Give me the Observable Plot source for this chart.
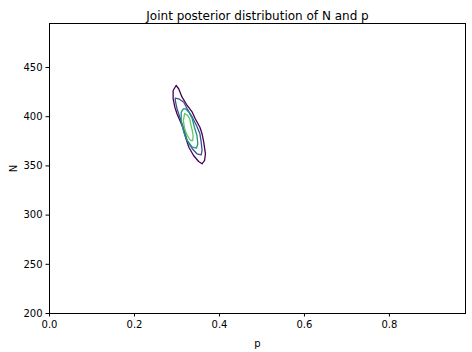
<!DOCTYPE html>
<html>
<head>
<meta charset="utf-8">
<script src="https://cdn.jsdelivr.net/npm/d3@7"></script>
<script src="https://cdn.jsdelivr.net/npm/@observablehq/plot@0.6"></script>
<style>
  html, body { margin: 0; padding: 0; background: #fff; }
  svg { display: block; }
</style>
</head>
<body>
<div id="chart"></div>
<script>
// Contour levels (viridis colours) and their outline points [p, N]
const levels = ["level1", "level2", "level3", "level4"];
const levelColors = ["#440154", "#3b528b", "#21918c", "#5ec962"];

const contour1 = [
  [0.298, 431.7], [0.291, 426.6], [0.291, 418.2], [0.295, 409.7], [0.300, 403.0],
  [0.307, 396.1], [0.315, 387.7], [0.320, 379.2], [0.328, 369.0], [0.339, 360.6],
  [0.351, 354.5], [0.359, 352.1], [0.365, 355.5], [0.367, 362.3], [0.363, 374.1],
  [0.359, 382.6], [0.354, 389.3], [0.343, 397.9], [0.336, 404.6], [0.324, 411.4],
  [0.312, 419.8], [0.304, 428.4]
];
const contour2 = [
  [0.296, 418.8], [0.296, 416.5], [0.300, 408.0], [0.308, 397.9], [0.316, 387.7],
  [0.324, 375.8], [0.336, 367.4], [0.347, 362.3], [0.357, 361.3], [0.359, 365.7],
  [0.357, 374.1], [0.354, 382.6], [0.346, 391.1], [0.336, 399.5], [0.324, 408.0],
  [0.316, 414.7], [0.304, 418.2]
];
const contour3 = [
  [0.315, 408.0], [0.310, 404.6], [0.310, 394.4], [0.316, 384.3], [0.324, 375.8],
  [0.336, 369.0], [0.346, 368.0], [0.349, 372.5], [0.347, 380.9], [0.341, 389.3],
  [0.336, 397.9], [0.328, 404.6], [0.320, 408.0]
];
const contour4 = [
  [0.318, 403.0], [0.315, 396.1], [0.318, 387.7], [0.324, 380.9], [0.332, 375.8],
  [0.337, 375.8], [0.338, 380.9], [0.336, 386.0], [0.333, 391.1], [0.330, 397.9],
  [0.324, 401.9]
];

const xTicks = [0.0, 0.2, 0.4, 0.6, 0.8];
const yTicks = [200, 250, 300, 350, 400, 450];
const titleText = "Joint posterior distribution of N and p";

// build closed rings for the line mark
const contours = [contour1, contour2, contour3, contour4];
const rows = [];
contours.forEach((pts, i) => {
  [...pts, pts[0]].forEach(([p, N]) => rows.push({p, N, level: levels[i]}));
});

const chart = Plot.plot({
  width: 472,
  height: 352,
  marginLeft: 49,
  marginRight: 7,
  marginTop: 23,
  marginBottom: 39,
  style: {fontFamily: "DejaVu Sans, sans-serif", fontSize: "10px", background: "#fff", color: "#000"},
  x: {domain: [0, 0.979]},
  y: {domain: [200, 494.7]},
  color: {domain: levels, range: levelColors},
  marks: [
    Plot.line(rows, {x: "p", y: "N", z: "level", stroke: "level", strokeWidth: 1.3, curve: "linear"}),
    Plot.frame({stroke: "#000", strokeWidth: 1}),
    Plot.axisX({ticks: xTicks, tickFormat: d3.format(".1f"), tickSize: 3.5, tickPadding: 3.5,
      label: "p", labelAnchor: "center", labelArrow: "none", labelOffset: 33, fontSize: 10}),
    Plot.axisY({ticks: yTicks, tickFormat: d => String(d), tickSize: 3.5, tickPadding: 3.5,
      label: "N", labelAnchor: "center", labelArrow: "none", labelOffset: 40, fontSize: 10}),
    Plot.text([titleText], {frameAnchor: "top", dy: -12, text: d => d, fontSize: 12, fill: "#000"})
  ]
});
document.getElementById("chart").appendChild(chart);
</script>
</body>
</html>
